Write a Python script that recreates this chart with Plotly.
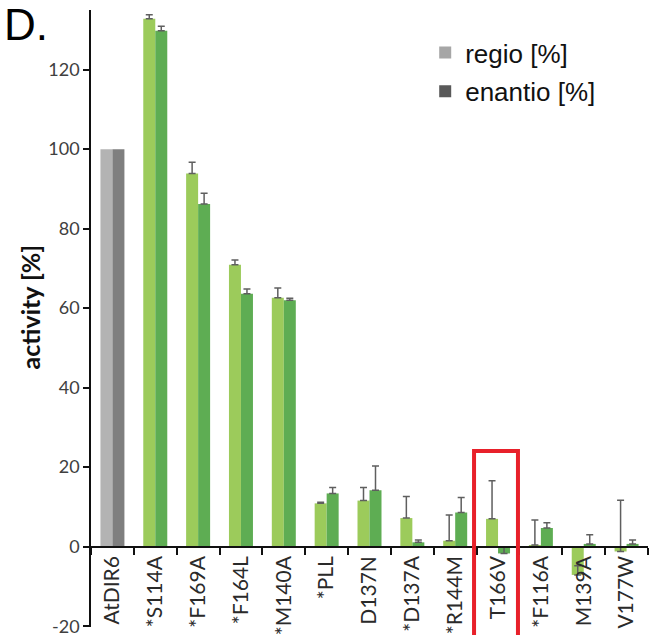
import plotly.graph_objects as go

# Variant activity relative to wild-type AtDIR6 (first entry is the reference enzyme)
categories = ["AtDIR6", "*S114A", "*F169A", "*F164L", "*M140A", "*PLL", "D137N",
              "*D137A", "*R144M", "T166V", "*F116A", "M139A", "V177W"]
regio = [100, 132.8, 93.9, 70.9, 62.6, 10.9, 11.6, 7.2, 1.5, 7.0, 0.4, -7.1, -1.2]
regio_err = [0, 1.0, 2.8, 1.2, 2.5, 0.3, 3.3, 5.4, 6.5, 9.6, 6.3, 2.3, 12.9]
enantio = [100, 129.8, 86.2, 63.6, 62.0, 13.4, 14.2, 1.1, 8.6, -1.7, 4.7, 0.7, 0.7]
enantio_err = [0, 1.1, 2.7, 1.2, 0.5, 1.5, 6.1, 0.6, 3.8, 1.7, 1.3, 2.3, 1.0]
highlight = "T166V"
y_ticks = [-20, 0, 20, 40, 60, 80, 100, 120]

Y_LO, Y_HI = -20.2, 135
REGIO_GREEN = "#9ccb5b"
ENANTIO_GREEN = "#5ead53"
REF_LIGHT = "#b3b3b3"
REF_DARK = "#7f7f7f"

err_style = dict(type="data", symmetric=False, color="#5f5f5f", thickness=1.5, width=3.5)

fig = go.Figure()
# wild-type reference bars (no error bars)
fig.add_trace(go.Bar(x=categories[:1], y=regio[:1], offsetgroup="regio",
                     marker=dict(color=REF_LIGHT, line=dict(width=0)), showlegend=False))
fig.add_trace(go.Bar(x=categories[:1], y=enantio[:1], offsetgroup="enantio",
                     marker=dict(color=REF_DARK, line=dict(width=0)), showlegend=False))
# variants
fig.add_trace(go.Bar(
    x=categories[1:], y=regio[1:], offsetgroup="regio",
    marker=dict(color=REGIO_GREEN, line=dict(width=0)),
    error_y=dict(array=regio_err[1:], arrayminus=[0] * (len(categories) - 1), **err_style),
    showlegend=False, name="regio [%]",
))
fig.add_trace(go.Bar(
    x=categories[1:], y=enantio[1:], offsetgroup="enantio",
    marker=dict(color=ENANTIO_GREEN, line=dict(width=0)),
    error_y=dict(array=enantio_err[1:], arrayminus=[0] * (len(categories) - 1), **err_style),
    showlegend=False, name="enantio [%]",
))
# Legend keys (square markers only, no data drawn)
fig.add_trace(go.Scatter(x=[None], y=[None], mode="markers", name="regio [%]",
                         marker=dict(symbol="square", size=12, color="#a6a6a6"),
                         legend="legend"))
fig.add_trace(go.Scatter(x=[None], y=[None], mode="markers", name="enantio [%]",
                         marker=dict(symbol="square", size=12, color="#595959"),
                         legend="legend2"))

n = len(categories)
zero_pos = (0 - Y_LO) / (Y_HI - Y_LO)
hi_idx = categories.index(highlight)

legend_font = dict(family="Liberation Sans, Arial, sans-serif", size=26, color="#111111")

fig.update_layout(
    width=655, height=635,
    margin=dict(l=91, r=7, t=10, b=8),
    paper_bgcolor="white", plot_bgcolor="white",
    barmode="group", bargap=0.44, bargroupgap=0,
    font=dict(family="Lato, sans-serif", color="#333333"),
    xaxis=dict(
        type="category", categoryorder="array", categoryarray=categories,
        range=[-0.5, n - 0.5],
        anchor="free", position=zero_pos,
        showline=True, linecolor="#111111", linewidth=2,
        ticks="outside", tickson="boundaries", ticklen=7, tickwidth=2, tickcolor="#111111",
        tickangle=-90, tickfont=dict(family="Lato, sans-serif", size=21, color="#2a2a2a"),
        showgrid=False, automargin=False, zeroline=False,
    ),
    yaxis=dict(
        range=[Y_LO, Y_HI], tickvals=y_ticks, ticktext=[str(v) for v in y_ticks],
        ticklabeloverflow="allow",
        showline=True, linecolor="#111111", linewidth=1.5,
        ticks="outside", ticklen=6, tickwidth=1.5, tickcolor="#111111",
        tickfont=dict(family="Lato, sans-serif", size=18, color="#404040"),
        showgrid=False, zeroline=False, automargin=False,
    ),
    legend=dict(x=0.6, y=0.931, xanchor="left", yanchor="middle",
                bgcolor="rgba(0,0,0,0)", font=legend_font),
    legend2=dict(x=0.6, y=0.868, xanchor="left", yanchor="middle",
                 bgcolor="rgba(0,0,0,0)", font=legend_font),
    shapes=[dict(
        type="rect", xref="x domain", yref="paper",
        x0=(hi_idx + 0.5 - 0.56) / n, x1=(hi_idx + 0.5 + 0.465) / n,
        y0=-0.1, y1=(24.1 - Y_LO) / (Y_HI - Y_LO),
        line=dict(color="#e8202a", width=4), fillcolor="rgba(0,0,0,0)", layer="above",
    )],
    annotations=[
        dict(text="D.", xref="paper", yref="paper", x=0, y=1, xshift=-89, yshift=12,
             xanchor="left", yanchor="top", showarrow=False,
             font=dict(family="Liberation Sans, Arial, sans-serif", size=44, color="#000000")),
        dict(text="<b>activity [%]</b>", xref="paper", yref="paper", x=0, y=0.518,
             xshift=-61, textangle=-90, xanchor="center", yanchor="middle", showarrow=False,
             font=dict(family="Lato, sans-serif", size=25, color="#111111")),
    ],
)

fig.write_html("out.html")
